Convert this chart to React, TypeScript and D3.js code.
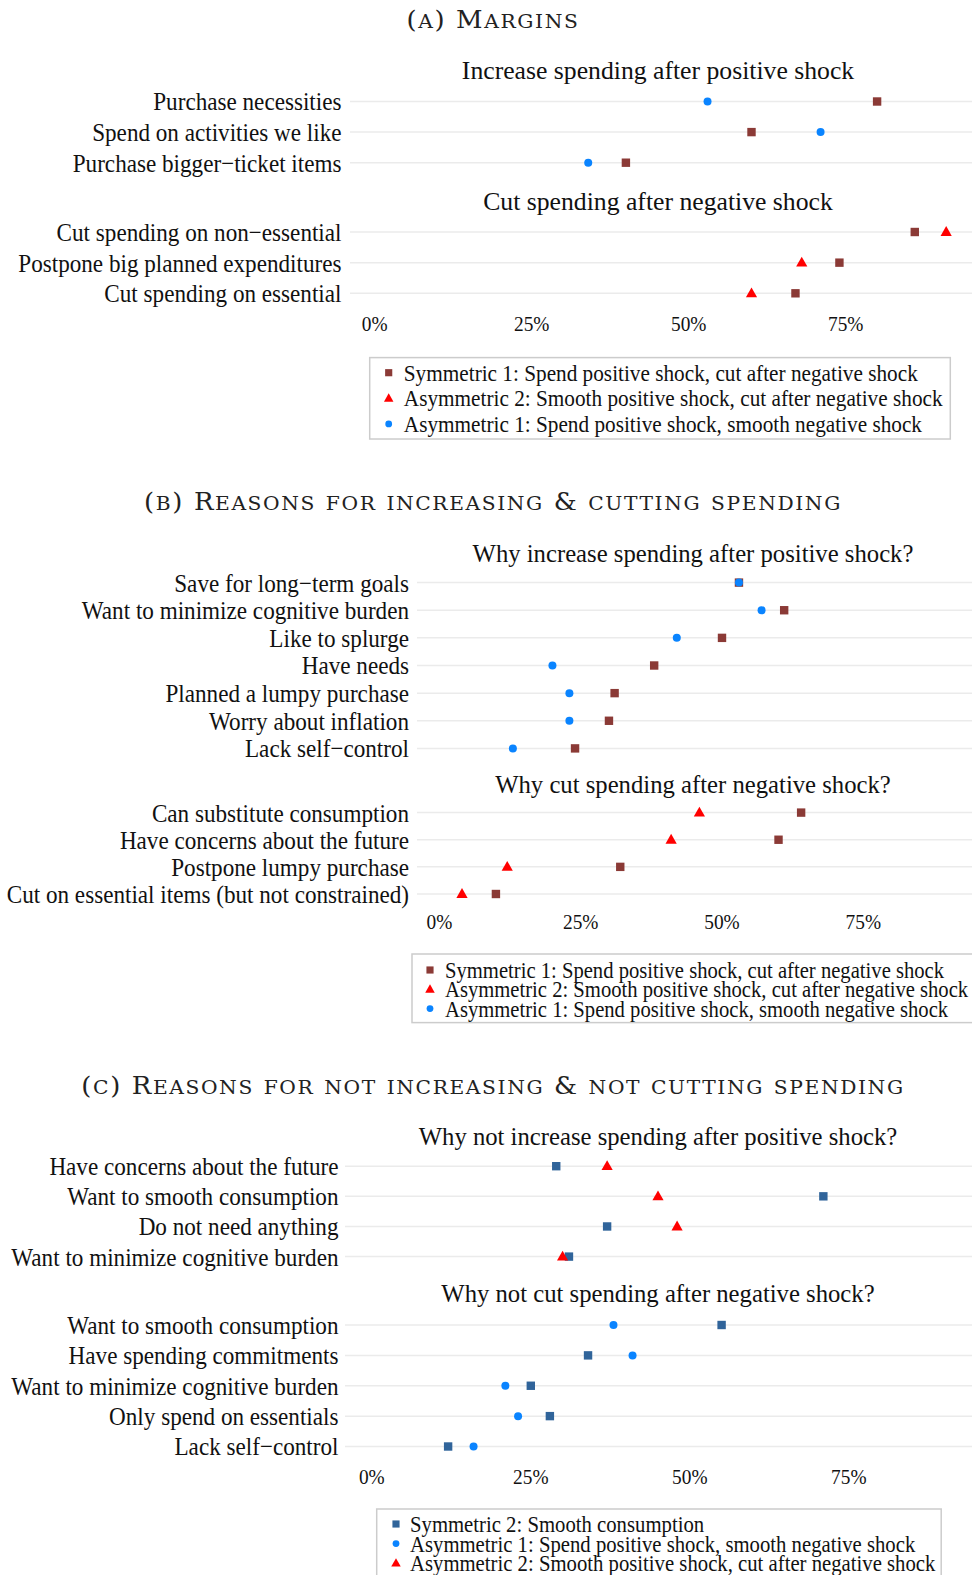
import React from "react";
import * as d3 from "d3";

// ---------- DATA ----------
// Panel A
const aPosCats = ["Purchase necessities", "Spend on activities we like", "Purchase bigger−ticket items"];
const aPosSym1 = [80, 60, 40];
const aPosAsym1 = [53, 71, 34];
const aNegCats = ["Cut spending on non−essential", "Postpone big planned expenditures", "Cut spending on essential"];
const aNegSym1 = [86, 74, 67];
const aNegAsym2 = [91, 68, 60];

// Panel B
const bPosCats = [
  "Save for long−term goals",
  "Want to minimize cognitive burden",
  "Like to splurge",
  "Have needs",
  "Planned a lumpy purchase",
  "Worry about inflation",
  "Lack self−control",
];
const bPosSym1 = [53, 61, 50, 38, 31, 30, 24];
const bPosAsym1 = [53, 57, 42, 20, 23, 23, 13];
const bNegCats = [
  "Can substitute consumption",
  "Have concerns about the future",
  "Postpone lumpy purchase",
  "Cut on essential items (but not constrained)",
];
const bNegSym1 = [64, 60, 32, 10];
const bNegAsym2 = [46, 41, 12, 4];

// Panel C
const cPosCats = [
  "Have concerns about the future",
  "Want to smooth consumption",
  "Do not need anything",
  "Want to minimize cognitive burden",
];
const cPosSym2 = [29, 71, 37, 31];
const cPosAsym2 = [37, 45, 48, 30];
const cNegCats = [
  "Want to smooth consumption",
  "Have spending commitments",
  "Want to minimize cognitive burden",
  "Only spend on essentials",
  "Lack self−control",
];
const cNegSym2 = [55, 34, 25, 28, 12];
const cNegAsym1 = [38, 41, 21, 23, 16];

const tickValues = [0, 25, 50, 75];

const legendAB = [
  { key: "sym1", label: "Symmetric 1: Spend positive shock, cut after negative shock" },
  { key: "asym2", label: "Asymmetric 2: Smooth positive shock, cut after negative shock" },
  { key: "asym1", label: "Asymmetric 1: Spend positive shock, smooth negative shock" },
];
const legendC = [
  { key: "sym2", label: "Symmetric 2: Smooth consumption" },
  { key: "asym1", label: "Asymmetric 1: Spend positive shock, smooth negative shock" },
  { key: "asym2", label: "Asymmetric 2: Smooth positive shock, cut after negative shock" },
];

// ---------- STYLE ----------
const FONT = "'Liberation Serif', 'Times New Roman', serif";
const TITLE_FONT = "'DejaVu Serif', serif";
const COLORS: Record<string, string> = {
  sym1: "#8b3a36",
  asym2: "#ff0000",
  asym1: "#0a84ff",
  sym2: "#30649a",
};
const GRID = "#ebebeb";
const INK = "#111";

function CText(props: {
  x: number;
  y: number;
  size: number;
  sx: number;
  anchor?: "start" | "middle" | "end";
  children: React.ReactNode;
  family?: string;
}) {
  const { x, y, size, sx, anchor = "start", children, family = FONT } = props;
  return (
    <g transform={`translate(${x},${y}) scale(${sx},1)`}>
      <text x={0} y={0} textAnchor={anchor} dominantBaseline="central" fontFamily={family} fontSize={size} fill={INK}>
        {children}
      </text>
    </g>
  );
}

function Marker({ kind, x, y, s = 1 }: { kind: string; x: number; y: number; s?: number }) {
  const c = COLORS[kind];
  if (kind === "sym1" || kind === "sym2") {
    const h = 4.2 * s;
    return <rect x={x - h} y={y - h} width={2 * h} height={2 * h} fill={c} />;
  }
  if (kind === "asym1") {
    return <circle cx={x} cy={y} r={4 * s} fill={c} />;
  }
  const r = 5.6 * s;
  const path = `M${x},${y - r * 1.05} L${x + r},${y + r * 0.7} L${x - r},${y + r * 0.7} Z`;
  return <path d={path} fill={c} />;
}

function SmallCapsTitle({ text, x, y, size, sx }: { text: string; x: number; y: number; size: number; sx: number }) {
  const parts: { t: string; small: boolean }[] = [];
  for (const ch of text) {
    const small = ch >= "a" && ch <= "z";
    const last = parts[parts.length - 1];
    if (last && last.small === small) last.t += small ? ch.toUpperCase() : ch;
    else parts.push({ t: small ? ch.toUpperCase() : ch, small });
  }
  return (
    <g transform={`translate(${x},${y}) scale(${sx},1)`}>
      <text
        x={0}
        y={0}
        textAnchor="middle"
        fontFamily={TITLE_FONT}
        fontSize={size}
        fill="#222"
        letterSpacing={1.5}
        style={{ whiteSpace: "pre" }}
      >
        {parts.map((p, i) => (
          <tspan key={i} fontSize={p.small ? size * 0.78 : size}>
            {p.t}
          </tspan>
        ))}
      </text>
    </g>
  );
}

type Series = { key: string; values: number[] };
type Group = { title: string; titleY: number; cats: string[]; y0: number; y1: number; series: Series[] };

const LABEL_SIZE = 26;
const LABEL_SX = 0.89;

function Panel(props: {
  groups: Group[];
  xScale: d3.ScaleLinear<number, number>;
  gridX0: number;
  gridX1: number;
  labelX: number;
  titleX: number;
  tickY: number;
  subSize: number;
}) {
  const { groups, xScale, gridX0, gridX1, labelX, titleX, tickY, subSize } = props;
  return (
    <g>
      {groups.map((g, gi) => {
        const y = d3.scalePoint<string>().domain(g.cats).range([g.y0, g.y1]);
        return (
          <g key={gi}>
            <text x={titleX} y={g.titleY} textAnchor="middle" dominantBaseline="central" fontFamily={FONT} fontSize={subSize} fill={INK}>
              {g.title}
            </text>
            {g.cats.map((c) => (
              <g key={c}>
                <line x1={gridX0} x2={gridX1} y1={y(c)} y2={y(c)} stroke={GRID} strokeWidth={1.5} />
                <CText x={labelX} y={y(c)!} size={LABEL_SIZE} sx={LABEL_SX} anchor="end">
                  {c}
                </CText>
              </g>
            ))}
            {g.series.map((s) =>
              s.values.map((v, i) => <Marker key={s.key + i} kind={s.key} x={xScale(v)} y={y(g.cats[i])!} />)
            )}
          </g>
        );
      })}
      {tickValues.map((t) => (
        <CText key={t} x={xScale(t)} y={tickY} size={22} sx={0.88} anchor="middle">
          {t}%
        </CText>
      ))}
    </g>
  );
}

function Legend(props: {
  items: { key: string; label: string }[];
  x: number;
  y: number;
  w: number;
  h: number;
  rowY0: number;
  step: number;
  markerX: number;
  textX: number;
  size: number;
}) {
  const { items, x, y, w, h, rowY0, step, markerX, textX, size } = props;
  return (
    <g>
      <rect x={x} y={y} width={w} height={h} fill="#fff" stroke="#cccccc" strokeWidth={1.5} />
      {items.map((it, i) => (
        <g key={it.key}>
          <Marker kind={it.key} x={markerX} y={rowY0 + i * step} s={0.85} />
          <CText x={textX} y={rowY0 + i * step} size={size} sx={0.886}>
            {it.label}
          </CText>
        </g>
      ))}
    </g>
  );
}

export default function App() {
  const W = 972;
  const H = 1575;
  const xA = d3.scaleLinear().domain([0, 100]).range([374.7, 1002.7]);
  const xB = d3.scaleLinear().domain([0, 100]).range([439.4, 1004.6]);
  const xC = d3.scaleLinear().domain([0, 100]).range([371.8, 1007.8]);

  return (
    <svg width={W} height={H} style={{ position: "absolute", left: 0, top: 0, background: "#fff" }}>
      <rect width={W} height={H} fill="#fff" />
      {/* Panel A */}
      <SmallCapsTitle text="(a) Margins" x={493} y={28} size={24} sx={1.08} />
      <Panel
        xScale={xA}
        gridX0={350}
        gridX1={972}
        labelX={341.5}
        titleX={658}
        tickY={323.5}
        subSize={25.7}
        groups={[
          {
            title: "Increase spending after positive shock",
            titleY: 70.5,
            cats: aPosCats,
            y0: 101.5,
            y1: 162.7,
            series: [
              { key: "sym1", values: aPosSym1 },
              { key: "asym1", values: aPosAsym1 },
            ],
          },
          {
            title: "Cut spending after negative shock",
            titleY: 201,
            cats: aNegCats,
            y0: 232,
            y1: 293.3,
            series: [
              { key: "sym1", values: aNegSym1 },
              { key: "asym2", values: aNegAsym2 },
            ],
          },
        ]}
      />
      <Legend items={legendAB} x={369.7} y={357.6} w={580.6} h={81.4} rowY0={372.7} step={25.6} markerX={388.7} textX={403.8} size={24} />

      {/* Panel B */}
      <SmallCapsTitle text="(b) Reasons for increasing & cutting spending" x={493} y={510} size={24} sx={1.08} />
      <Panel
        xScale={xB}
        gridX0={417}
        gridX1={972}
        labelX={409}
        titleX={693}
        tickY={922}
        subSize={24.7}
        groups={[
          {
            title: "Why increase spending after positive shock?",
            titleY: 553.5,
            cats: bPosCats,
            y0: 582.6,
            y1: 748.4,
            series: [
              { key: "sym1", values: bPosSym1 },
              { key: "asym1", values: bPosAsym1 },
            ],
          },
          {
            title: "Why cut spending after negative shock?",
            titleY: 784.5,
            cats: bNegCats,
            y0: 812.6,
            y1: 894,
            series: [
              { key: "sym1", values: bNegSym1 },
              { key: "asym2", values: bNegAsym2 },
            ],
          },
        ]}
      />
      <Legend items={legendAB} x={412} y={954} w={580} h={68.6} rowY0={970} step={19.3} markerX={430} textX={445} size={23.3} />

      {/* Panel C */}
      <SmallCapsTitle text="(c) Reasons for not increasing & not cutting spending" x={493} y={1094} size={24} sx={1.08} />
      <Panel
        xScale={xC}
        gridX0={345}
        gridX1={972}
        labelX={338.5}
        titleX={658}
        tickY={1476.6}
        subSize={24.7}
        groups={[
          {
            title: "Why not increase spending after positive shock?",
            titleY: 1136,
            cats: cPosCats,
            y0: 1166.2,
            y1: 1256.6,
            series: [
              { key: "sym2", values: cPosSym2 },
              { key: "asym2", values: cPosAsym2 },
            ],
          },
          {
            title: "Why not cut spending after negative shock?",
            titleY: 1293.8,
            cats: cNegCats,
            y0: 1325,
            y1: 1446.5,
            series: [
              { key: "sym2", values: cNegSym2 },
              { key: "asym1", values: cNegAsym1 },
            ],
          },
        ]}
      />
      <Legend items={legendC} x={376.7} y={1509} w={564.5} h={80} rowY0={1524} step={19.6} markerX={396} textX={410} size={23.4} />
    </svg>
  );
}
